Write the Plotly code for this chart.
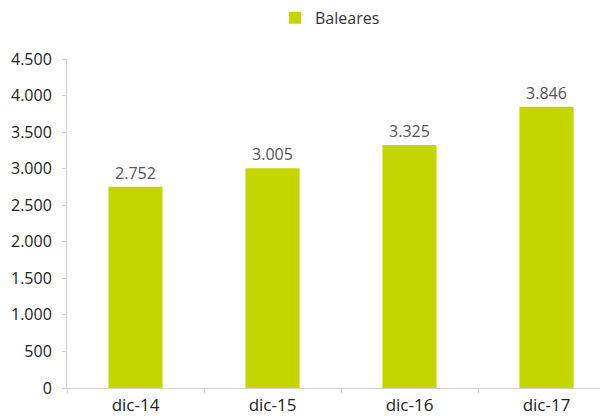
import plotly.graph_objects as go

categories = ["dic-14", "dic-15", "dic-16", "dic-17"]
baleares = [2752, 3005, 3325, 3846]
y_ticks = [0, 500, 1000, 1500, 2000, 2500, 3000, 3500, 4000, 4500]

GREEN = "#c4d600"


def fmt(v):
    return f"{v:,}".replace(",", ".")


fig = go.Figure(
    go.Bar(
        x=categories,
        y=baleares,
        name="Baleares",
        marker=dict(color=GREEN, line=dict(width=0)),
        width=0.395,
        text=[fmt(v) for v in baleares],
        textposition="outside",
        textfont=dict(color="#555555", size=16),
        cliponaxis=False,
    )
)

# the page body adds an 8px offset, margins are set to compensate
fig.update_layout(
    width=608,
    height=416,
    margin=dict(l=59, r=8, t=51, b=36, autoexpand=False),
    paper_bgcolor="white",
    plot_bgcolor="white",
    font=dict(family="Open Sans, sans-serif", size=16, color="#333333"),
    showlegend=True,
    legend=dict(
        orientation="h",
        x=(267 - 59) / 541,
        xanchor="left",
        y=1.125,
        yanchor="middle",
        font=dict(size=16, color="#333333"),
    ),
)

fig.update_xaxes(
    range=[-0.5, -0.5 + 541 / 137],
    showline=True,
    linecolor="#d0d0d0",
    linewidth=1,
    ticks="outside",
    tickson="boundaries",
    ticklen=4,
    tickcolor="#d0d0d0",
    showgrid=False,
    automargin=False,
    ticklabelstandoff=2,
    tickfont=dict(size=17, color="#222222"),
)
fig.update_yaxes(
    range=[0, 4500],
    tickvals=y_ticks,
    ticktext=[fmt(v) for v in y_ticks],
    showline=True,
    linecolor="#d0d0d0",
    linewidth=1,
    ticks="outside",
    ticklen=4,
    tickcolor="#d0d0d0",
    showgrid=False,
    zeroline=False,
    automargin=False,
    ticklabelstandoff=7,
    tickfont=dict(size=16, color="#222222"),
)

fig.write_html("out.html")
